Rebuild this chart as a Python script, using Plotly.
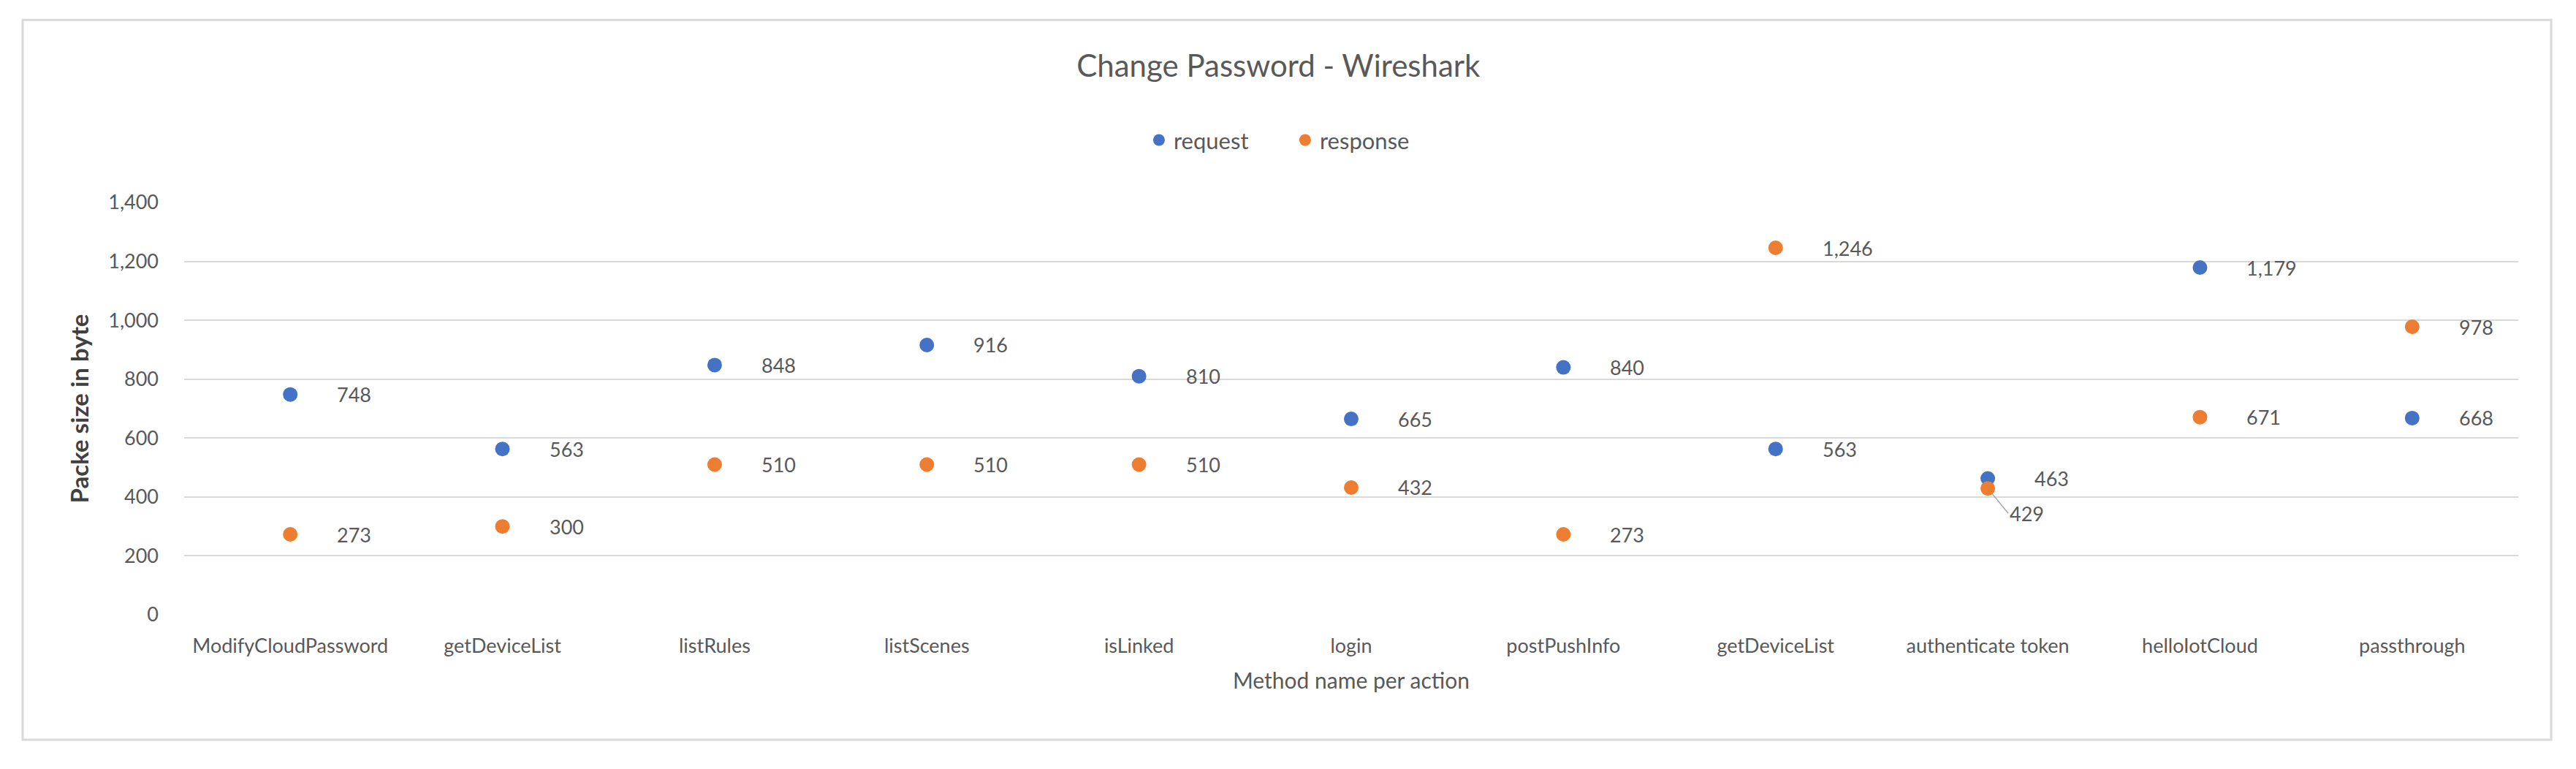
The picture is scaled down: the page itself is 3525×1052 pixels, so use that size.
import plotly.graph_objects as go

# methods captured in wireshark for the change-password action
methods = ['ModifyCloudPassword', 'getDeviceList', 'listRules', 'listScenes', 'isLinked', 'login',
           'postPushInfo', 'getDeviceList', 'authenticate token', 'helloIotCloud', 'passthrough']
request = [748, 563, 848, 916, 810, 665, 840, 563, 463, 1179, 668]
response = [273, 300, 510, 510, 510, 432, 273, 1246, 429, 671, 978]
y_ticks = [0, 200, 400, 600, 800, 1000, 1200, 1400]

BLUE = '#4472C4'
ORANGE = '#ED7D31'
GREY = '#595959'
FONT = 'Lato'

xs = list(range(len(methods)))  # getDeviceList appears twice, so use positions

fig = go.Figure()
fig.add_trace(go.Scatter(x=xs, y=request, mode='markers', name='request',
                         marker=dict(color=BLUE, size=20)))
fig.add_trace(go.Scatter(x=xs, y=response, mode='markers', name='response',
                         marker=dict(color=ORANGE, size=20)))

# data labels to the right of each point
for series in (request, response):
    for i, v in enumerate(series):
        if series is response and methods[i] == 'authenticate token':
            # overlaps the request point -> pushed down with a leader line
            fig.add_annotation(x=i, y=v, text=f'{v:,}', showarrow=True, arrowhead=0,
                               arrowwidth=1.5, arrowcolor='#a6a6a6', ax=28, ay=34,
                               xanchor='left', standoff=10,
                               font=dict(family=FONT, size=27, color=GREY))
            continue
        fig.add_annotation(x=i, y=v, text=f'{v:,}', showarrow=False, xanchor='left',
                           xshift=62, font=dict(family=FONT, size=27, color=GREY))

# outer chart border
fig.add_shape(type='rect', xref='paper', yref='paper', x0=-0.0692, x1=1.0141, y0=-0.303, y1=1.443,
              line=dict(color='#d9d9d9', width=3), layer='below')

fig.update_layout(
    width=3525, height=1052,
    margin=dict(l=244, r=87, t=269, b=219, autoexpand=False),
    paper_bgcolor='white', plot_bgcolor='white',
    font=dict(family=FONT, color=GREY),
    title=dict(text='Change Password - Wireshark', x=0.494, xref='container', xanchor='center',
               y=1 - 82 / 1052, yref='container', yanchor='middle',
               font=dict(family=FONT, size=42, color=GREY)),
    legend=dict(orientation='h', x=0.474, xanchor='center', y=1.151, yanchor='middle',
                font=dict(family=FONT, size=31, color=GREY), itemwidth=30, entrywidth=155),
    showlegend=True,
)
fig.update_xaxes(range=[-0.5, len(methods) - 0.5], tickvals=xs, ticktext=methods,
                 showgrid=False, zeroline=False, showline=False, ticks='', automargin=False,
                 ticklabelstandoff=24, tickfont=dict(family=FONT, size=27, color=GREY),
                 title=dict(text='Method name per action', standoff=22,
                            font=dict(family=FONT, size=30, color=GREY)))
fig.update_yaxes(range=[0, 1400], tickvals=y_ticks, tickformat=',', showgrid=True,
                 gridcolor='#d9d9d9', gridwidth=2, zeroline=False, showline=False, ticks='',
                 automargin=False, ticklabelstandoff=34,
                 tickfont=dict(family=FONT, size=27, color=GREY),
                 title=dict(text='<b>Packe size in byte</b>', standoff=16,
                            font=dict(family=FONT, size=33, color='#404040')))

fig.write_html('out.html')
